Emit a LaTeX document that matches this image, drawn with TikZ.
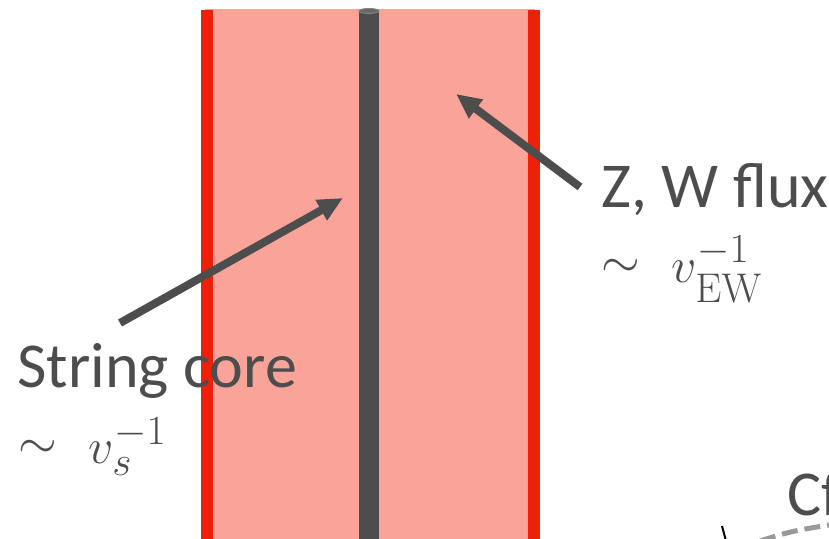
\documentclass[tikz,border=0pt]{standalone}
\usepackage{amsmath}
\usepackage[no-math]{fontspec}
\setmainfont{Carlito}
\usepackage{tikz}
\usetikzlibrary{arrows.meta}

\definecolor{fluxpink}{HTML}{FAA399}
\definecolor{wallred}{HTML}{EE200A}
\definecolor{coregray}{HTML}{4D4D4D}
\definecolor{dashgray}{HTML}{999999}

\newcommand{\scaling}[1]{$\mathrel{\raisebox{2.5pt}{$\sim$}}\hspace{9pt}#1$}

\begin{document}
\begin{tikzpicture}[x=0.5pt,y=-0.5pt,
  lbl/.style={text=coregray,font=\fontsize{32}{38}\selectfont,inner sep=0pt,anchor=base west},
  mlbl/.style={text=coregray,font=\fontsize{31}{36}\selectfont,inner sep=0pt,anchor=base west},
  ptr/.style={coregray,line width=4pt,-{Triangle[length=12.5pt,width=11pt]}}]

\useasboundingbox (0,0) rectangle (829,539);
\clip (0,0) rectangle (829,539);

% Flux tube
\fill[fluxpink] (205,9) rectangle (535,545);
\fill[wallred] (201,10) rectangle (213,545);
\fill[wallred] (528,10) rectangle (540,545);

% String core
\fill[coregray] (359,11) rectangle (379,545);
\draw[coregray!70!white,fill=coregray!85!white,line width=0.5pt] (369,11) ellipse (10 and 2.5);

% Labels
\node[lbl] (corelbl) at (17,387) {String core};
\node[mlbl] (corescale) at (18,463) {\scaling{v_s^{-1}}};

\node[lbl] (fluxlbl) at (601,208) {Z, W flux};
\node[mlbl] (fluxscale) at (601,283) {\scaling{v_{\mathrm{EW}}^{-1}}};

% Pointers
\coordinate (coretail) at (120,323);
\coordinate (coretip) at (343,198);
\draw[ptr] (coretail) -- (coretip);

\coordinate (fluxtail) at (580,187);
\coordinate (fluxtip) at (456,94);
\draw[ptr] (fluxtail) -- (fluxtip);

% Next panel (cut off)
\node[lbl] (cflbl) at (787,515) {Cf};
\draw[dashgray,line width=2.5pt,dash pattern=on 8pt off 3.5pt] (760,541) .. controls (792,531) .. (835,524);
\draw[black,line width=1pt] (722,526) -- (726,541);

\end{tikzpicture}
\end{document}
